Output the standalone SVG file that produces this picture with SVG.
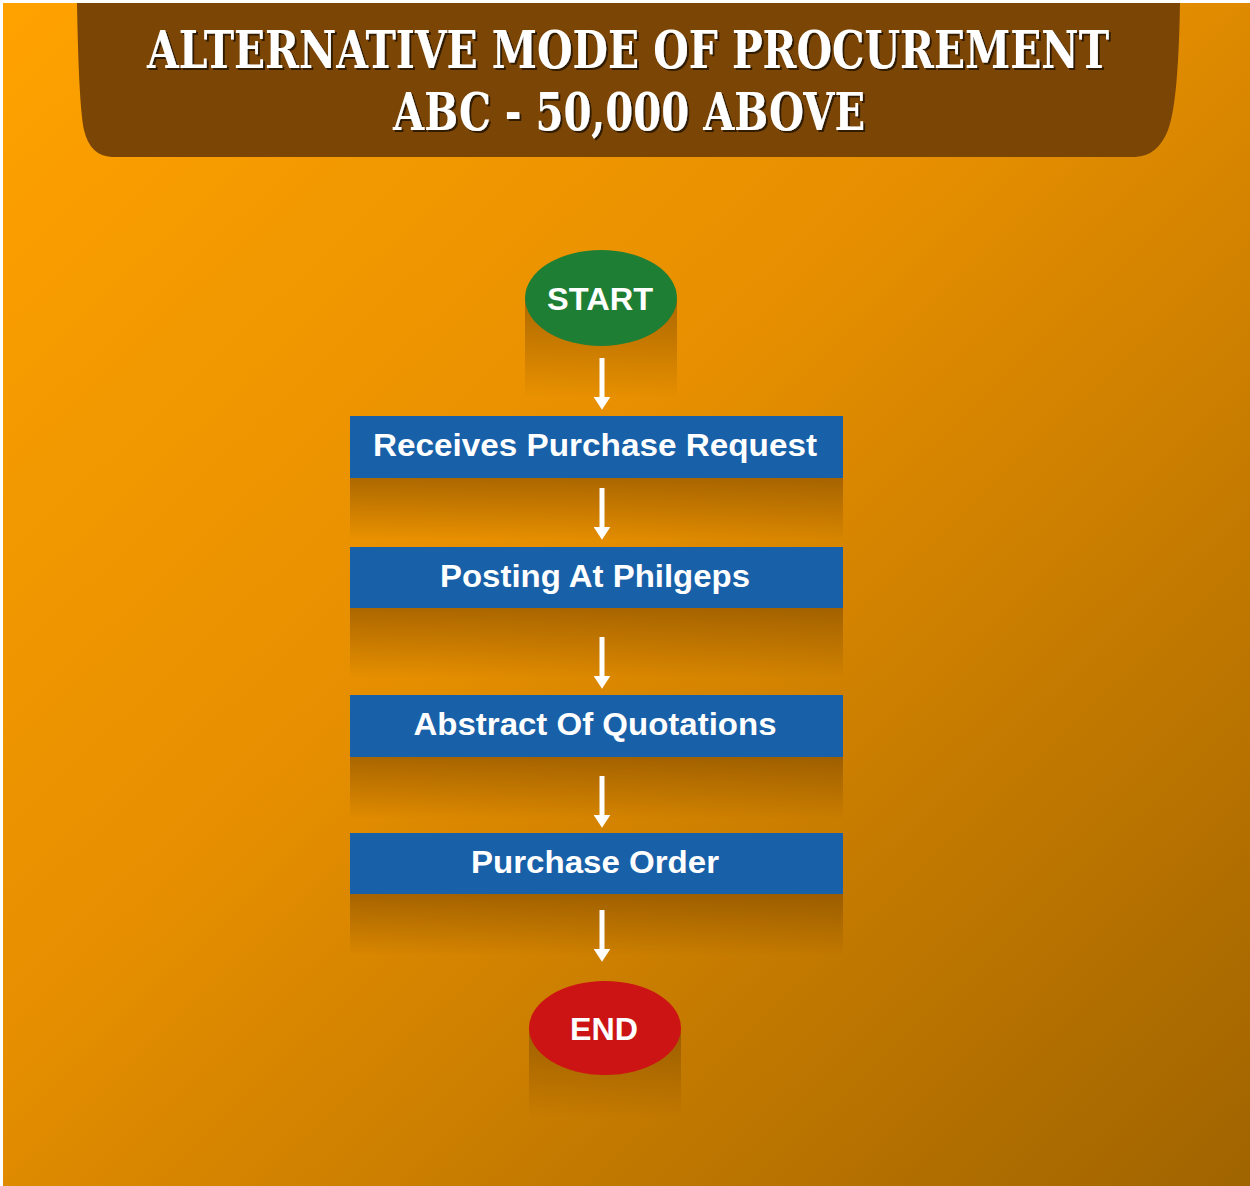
<svg xmlns="http://www.w3.org/2000/svg" width="1250" height="1186" viewBox="0 0 1250 1186">
<defs>
<linearGradient id="bg" x1="0" y1="0" x2="1" y2="1">
<stop offset="0" stop-color="#FFA200"/>
<stop offset="0.45" stop-color="#E58E00"/>
<stop offset="1" stop-color="#A06400"/>
</linearGradient>
<linearGradient id="sh" x1="0" y1="0" x2="0" y2="1">
<stop offset="0" stop-color="#7A4500" stop-opacity="0.55"/>
<stop offset="1" stop-color="#7A4500" stop-opacity="0"/>
</linearGradient>
<marker id="ah" viewBox="0 0 10 10" refX="1" refY="5" markerWidth="2.6" markerHeight="3.4" markerUnits="strokeWidth" orient="auto" preserveAspectRatio="none">
<path d="M0,0 L10,5 L0,10 Z" fill="#FFFFFF"/>
</marker>
<filter id="ts" x="-10%" y="-50%" width="120%" height="200%">
<feDropShadow dx="2" dy="2" stdDeviation="0.6" flood-color="#2a1400" flood-opacity="0.9"/>
</filter>
</defs>
<style>
.title{font-family:"DejaVu Serif","Liberation Serif",serif;font-weight:bold;font-stretch:condensed;fill:#FFFFFF;}
.lbl{font-family:"Liberation Sans",Arial,sans-serif;font-weight:bold;fill:#FFFFFF;text-anchor:middle;}
.box{fill:#1860A8;}
.conn{stroke:#FFFFFF;stroke-width:5;fill:none;}
</style>
<rect x="0" y="0" width="1250" height="1186" fill="#FFFFFF"/>
<rect x="3" y="3" width="1247" height="1183" fill="url(#bg)"/>
<g id="banner">
<path d="M77,3 L1180,3 C1179,60 1176,110 1168,130 Q1158,156 1135,157 L112,157 Q90,156 84,130 C80,110 78,60 77,3 Z" fill="#7B4505"/>
<text class="title" x="628" y="68" font-size="52" text-anchor="middle" textLength="962" lengthAdjust="spacingAndGlyphs" filter="url(#ts)">ALTERNATIVE MODE OF PROCUREMENT</text>
<text class="title" x="629" y="130" font-size="52" text-anchor="middle" textLength="472" lengthAdjust="spacingAndGlyphs" filter="url(#ts)">ABC - 50,000 ABOVE</text>
</g>
<g id="shadows">
<rect x="525" y="298" width="152" height="100" fill="url(#sh)"/>
<rect x="350" y="478" width="493" height="62" fill="url(#sh)"/>
<rect x="350" y="608" width="493" height="70" fill="url(#sh)"/>
<rect x="350" y="757" width="493" height="62" fill="url(#sh)"/>
<rect x="350" y="894" width="493" height="62" fill="url(#sh)"/>
<rect x="529" y="1028" width="152" height="90" fill="url(#sh)"/>
</g>
<g id="connectors">
<line class="conn" x1="602" y1="358" x2="602" y2="398" marker-end="url(#ah)"/>
<line class="conn" x1="602" y1="488" x2="602" y2="528" marker-end="url(#ah)"/>
<line class="conn" x1="602" y1="637" x2="602" y2="677" marker-end="url(#ah)"/>
<line class="conn" x1="602" y1="776" x2="602" y2="816" marker-end="url(#ah)"/>
<line class="conn" x1="602" y1="910" x2="602" y2="950" marker-end="url(#ah)"/>
</g>
<g id="start">
<ellipse cx="601" cy="298" rx="76" ry="48" fill="#1E7E34"/>
<text class="lbl" x="600" y="310" font-size="32" textLength="106" lengthAdjust="spacingAndGlyphs">START</text>
</g>
<g id="receives">
<rect class="box" x="350" y="416" width="493" height="62"/>
<text class="lbl" x="595" y="456" font-size="31" textLength="444" lengthAdjust="spacingAndGlyphs">Receives Purchase Request</text>
</g>
<g id="posting">
<rect class="box" x="350" y="547" width="493" height="61"/>
<text class="lbl" x="595" y="587" font-size="31" textLength="310" lengthAdjust="spacingAndGlyphs">Posting At Philgeps</text>
</g>
<g id="abstract">
<rect class="box" x="350" y="695" width="493" height="62"/>
<text class="lbl" x="595" y="735" font-size="31" textLength="363" lengthAdjust="spacingAndGlyphs">Abstract Of Quotations</text>
</g>
<g id="order">
<rect class="box" x="350" y="833" width="493" height="61"/>
<text class="lbl" x="595" y="873" font-size="31" textLength="248" lengthAdjust="spacingAndGlyphs">Purchase Order</text>
</g>
<g id="end">
<ellipse cx="605" cy="1028" rx="76" ry="47" fill="#CC1414"/>
<text class="lbl" x="604" y="1040" font-size="31" textLength="68" lengthAdjust="spacingAndGlyphs">END</text>
</g>
</svg>
